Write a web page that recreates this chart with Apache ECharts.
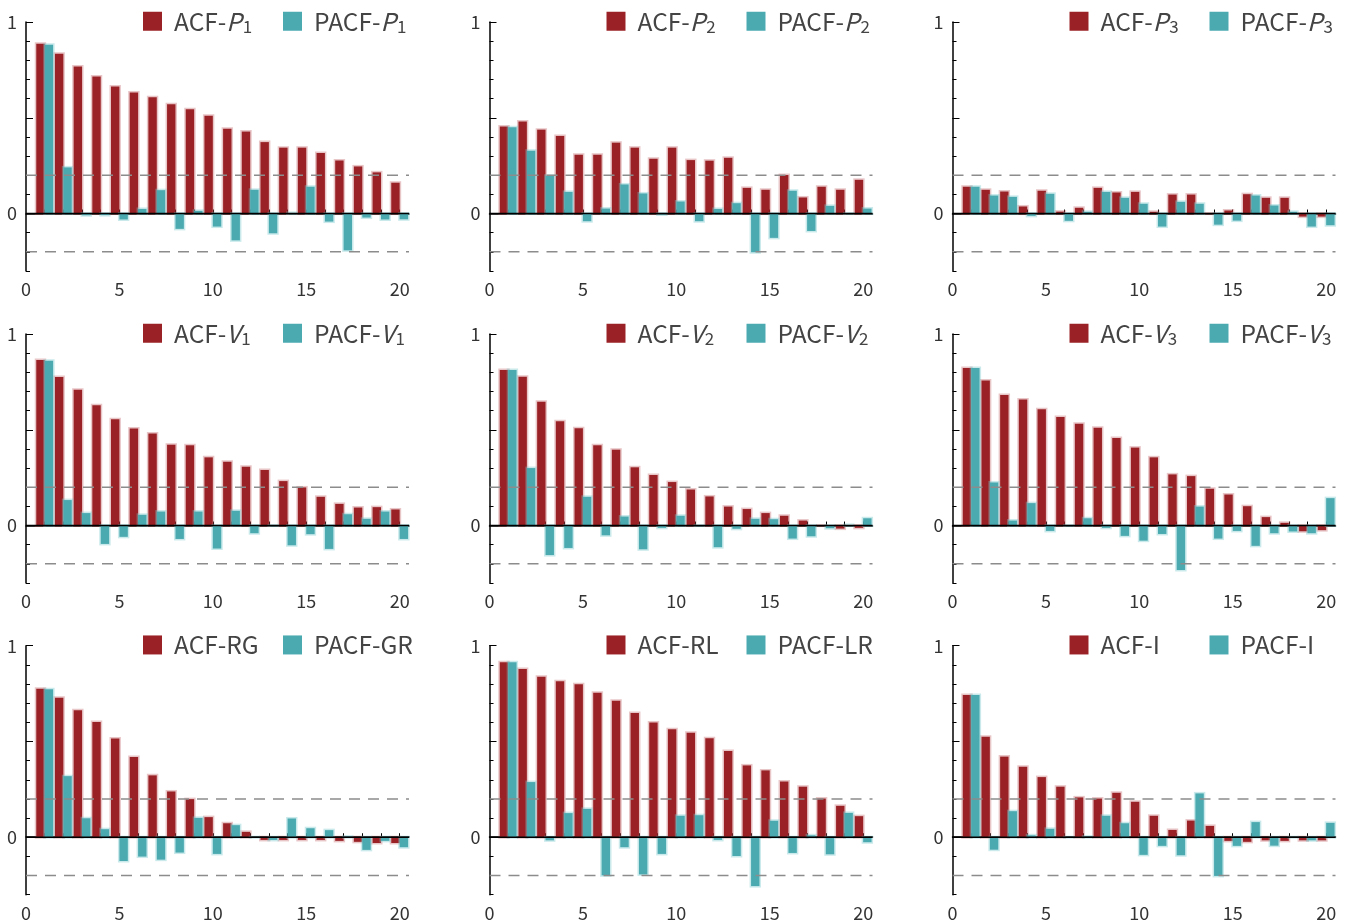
<!DOCTYPE html>
<html><head><meta charset="utf-8">
<script src="https://cdn.jsdelivr.net/npm/echarts@6/dist/echarts.min.js"></script>
<style>html,body{margin:0;padding:0;background:#fff}#c{width:1345px;height:922px}</style>
</head><body><div id="c"></div>
<script>
const lags = [1,2,3,4,5,6,7,8,9,10,11,12,13,14,15,16,17,18,19,20];
const xTickLabels = [0,5,10,15,20];
const yTickLabels = [0,1];
const yMajorTicks = [0.5,1];
const refLevels = [0.2,-0.2,0];

const acfP1  = [0.887,0.834,0.768,0.716,0.663,0.632,0.607,0.571,0.545,0.510,0.443,0.428,0.373,0.344,0.344,0.316,0.277,0.246,0.215,0.161];
const pacfP1 = [0.881,0.241,-0.009,-0.008,-0.031,0.024,0.122,-0.080,0.014,-0.068,-0.140,0.124,-0.103,0.003,0.140,-0.042,-0.192,-0.021,-0.031,-0.030];
const acfP2  = [0.454,0.480,0.438,0.405,0.307,0.307,0.370,0.344,0.286,0.344,0.279,0.276,0.291,0.134,0.124,0.201,0.084,0.140,0.124,0.176];
const pacfP2 = [0.450,0.328,0.197,0.113,-0.040,0.026,0.152,0.105,-0.005,0.063,-0.040,0.024,0.054,-0.202,-0.127,0.119,-0.091,0.040,0.000,0.026];
const acfP3  = [0.140,0.124,0.115,0.037,0.119,0.010,0.030,0.134,0.110,0.113,0.009,0.099,0.099,0.000,0.016,0.101,0.082,0.082,-0.016,-0.016];
const pacfP3 = [0.140,0.094,0.087,-0.012,0.103,-0.038,0.009,0.113,0.082,0.051,-0.068,0.061,0.051,-0.058,-0.037,0.094,0.042,0.009,-0.068,-0.061];
const acfV1  = [0.864,0.775,0.709,0.628,0.555,0.506,0.480,0.422,0.419,0.356,0.333,0.307,0.290,0.232,0.199,0.150,0.113,0.094,0.096,0.084];
const pacfV1 = [0.860,0.133,0.065,-0.096,-0.059,0.056,0.073,-0.070,0.073,-0.120,0.077,-0.040,0.000,-0.103,-0.045,-0.122,0.059,0.035,0.073,-0.070];
const acfV2  = [0.812,0.777,0.646,0.545,0.508,0.419,0.396,0.304,0.264,0.227,0.188,0.152,0.099,0.086,0.065,0.051,0.026,0.000,-0.016,-0.012];
const pacfV2 = [0.812,0.300,-0.154,-0.117,0.150,-0.051,0.047,-0.124,-0.012,0.051,0.000,-0.113,-0.017,0.035,0.033,-0.068,-0.056,-0.014,0.003,0.038];
const acfV3  = [0.822,0.757,0.681,0.658,0.607,0.567,0.532,0.510,0.457,0.407,0.356,0.267,0.258,0.192,0.162,0.101,0.044,0.014,-0.030,-0.024];
const pacfV3 = [0.822,0.225,0.026,0.117,-0.028,0.000,0.038,-0.012,-0.054,-0.079,-0.044,-0.232,0.099,-0.068,-0.028,-0.106,-0.040,-0.031,-0.040,0.143];
const acfRG  = [0.775,0.728,0.663,0.602,0.515,0.419,0.323,0.239,0.199,0.105,0.073,0.028,-0.014,-0.014,-0.014,-0.014,-0.019,-0.024,-0.030,-0.030];
const pacfGR = [0.773,0.319,0.099,0.042,-0.124,-0.101,-0.117,-0.080,0.101,-0.087,0.063,0.000,-0.014,0.098,0.047,0.037,0.003,-0.066,-0.019,-0.052];
const acfRL  = [0.913,0.878,0.838,0.815,0.799,0.754,0.712,0.649,0.599,0.564,0.546,0.517,0.450,0.375,0.349,0.291,0.264,0.202,0.164,0.110];
const pacfLR = [0.913,0.288,-0.016,0.126,0.148,-0.199,-0.052,-0.194,-0.087,0.112,0.115,-0.014,-0.098,-0.255,0.086,-0.082,0.010,-0.089,0.127,-0.026];
const acfI   = [0.742,0.524,0.421,0.368,0.314,0.264,0.208,0.202,0.232,0.185,0.112,0.038,0.087,0.059,-0.019,-0.024,-0.016,-0.019,-0.016,-0.016];
const pacfI  = [0.742,-0.065,0.136,0.010,0.044,0.000,0.003,0.112,0.073,-0.092,-0.045,-0.094,0.229,-0.202,-0.045,0.079,-0.044,0.000,-0.016,0.075];

const panels = [
  ['ACF-P1', acfP1, 'PACF-P1', pacfP1],
  ['ACF-P2', acfP2, 'PACF-P2', pacfP2],
  ['ACF-P3', acfP3, 'PACF-P3', pacfP3],
  ['ACF-V1', acfV1, 'PACF-V1', pacfV1],
  ['ACF-V2', acfV2, 'PACF-V2', pacfV2],
  ['ACF-V3', acfV3, 'PACF-V3', pacfV3],
  ['ACF-RG', acfRG, 'PACF-GR', pacfGR],
  ['ACF-RL', acfRL, 'PACF-LR', pacfLR],
  ['ACF-I',  acfI,  'PACF-I',  pacfI]
];

const RED = '#9a2226', RED_EDGE = 'rgba(190,90,95,0.35)';
const TEAL = '#4aaab0', TEAL_EDGE = 'rgba(120,200,205,0.40)';
const FONT = '"Noto Sans CJK JP","Noto Sans",sans-serif';
const colLeft = [26, 489.5, 952.5];
const rowTop = [22, 334, 645.7];
const GW = 383, GH = 249;
const XMAX = 20.5;

function legendFmt(name) {
  const m = name.match(/^(P?ACF-)([PV])(\d)$/);
  if (m) return '{a|' + m[1] + '}{i|' + m[2] + '}{s|' + m[3] + '}';
  return '{a|' + name + '}';
}
const legendRich = {
  a: {fontSize: 24.5, fontFamily: FONT, color: '#444', padding: [0,0,0,7]},
  i: {fontSize: 24.5, fontFamily: FONT, color: '#444', fontStyle: 'italic'},
  s: {fontSize: 17, fontFamily: FONT, color: '#444', padding: [11,0,0,1]}
};

function barRenderer(x0, x1, fill, edge) {
  return function (params, api) {
    const k = api.value(0), v = api.value(1);
    const a = api.coord([k + x0, 0]);
    const b = api.coord([k + x1, v]);
    const x = a[0], w = b[0] - a[0];
    const y = Math.min(a[1], b[1]), h = Math.abs(b[1] - a[1]);
    const e = 1.5;
    return {
      type: 'group',
      children: [
        {type: 'rect', shape: {x: x - e, y: y - e, width: w + 2 * e, height: h + 2 * e}, style: {fill: edge}},
        {type: 'rect', shape: {x: x, y: y, width: w, height: h}, style: {fill: fill}}
      ]
    };
  };
}

function refRenderer(params, api) {
  const v = api.value(0);
  const a = api.coord([0, v]);
  const b = api.coord([XMAX, v]);
  const zero = v === 0;
  return {
    type: 'line',
    shape: {x1: a[0], y1: a[1], x2: b[0], y2: b[1]},
    style: zero ? {stroke: '#000', lineWidth: 1.5} : {stroke: '#8c8c8c', lineWidth: 1.5, lineDash: [11, 8]}
  };
}

const option = {
  animation: false,
  backgroundColor: '#fff',
  textStyle: {fontFamily: FONT},
  grid: [], xAxis: [], yAxis: [], series: [], legend: []
};

panels.forEach((p, i) => {
  const r = Math.floor(i / 3), c = i % 3;
  const left = colLeft[c], top = rowTop[r];
  option.grid.push({left: left, top: top, width: GW, height: GH, containLabel: false});
  option.xAxis.push({
    type: 'value', gridIndex: i, min: 0, max: XMAX,
    axisLine: {show: true, lineStyle: {color: '#000', width: 1.5}},
    axisTick: {show: true, inside: true, length: 4, customValues: lags, lineStyle: {color: '#000', width: 1}},
    axisLabel: {customValues: xTickLabels, fontSize: 18, color: '#333', margin: 9, fontFamily: FONT},
    splitLine: {show: false}
  });
  option.yAxis.push({
    type: 'value', gridIndex: i, min: -0.3, max: 1, interval: 0.1, position: 'left',
    axisLine: {show: true, lineStyle: {color: '#000', width: 1.5}},
    axisTick: {show: true, inside: true, length: 4, lineStyle: {color: '#000', width: 1}},
    axisLabel: {customValues: yTickLabels, fontSize: 18, color: '#333', margin: 9, fontFamily: FONT},
    splitLine: {show: false}
  });
  option.yAxis.push({
    type: 'value', gridIndex: i, min: -0.3, max: 1, position: 'left', offset: 0,
    axisLine: {show: false},
    axisTick: {show: true, inside: true, length: 7, customValues: yMajorTicks, lineStyle: {color: '#000', width: 1}},
    axisLabel: {show: false},
    splitLine: {show: false}
  });
  const yi = 2 * i;
  option.series.push({
    name: p[0], type: 'custom', xAxisIndex: i, yAxisIndex: yi, z: 2,
    itemStyle: {color: RED},
    renderItem: barRenderer(-0.45, 0, RED, RED_EDGE),
    encode: {x: 0, y: 1},
    data: lags.map((k, j) => [k, p[1][j]])
  });
  option.series.push({
    name: p[2], type: 'custom', xAxisIndex: i, yAxisIndex: yi, z: 2,
    itemStyle: {color: TEAL},
    renderItem: barRenderer(0, 0.45, TEAL, TEAL_EDGE),
    encode: {x: 0, y: 1},
    data: lags.map((k, j) => [k, p[3][j]])
  });
  option.series.push({
    name: 'ref' + i, type: 'custom', xAxisIndex: i, yAxisIndex: yi, z: 5,
    renderItem: refRenderer, silent: true,
    encode: {y: 0},
    data: refLevels.map(v => [v])
  });
  const legTop = top - 13;
  [[p[0], 117], [p[2], 257]].forEach(([nm, dx]) => {
    option.legend.push({
      left: left + dx, top: legTop, padding: 0, itemWidth: 19, itemHeight: 19,
      icon: 'rect', selectedMode: false,
      data: [nm],
      formatter: legendFmt,
      textStyle: {fontSize: 24.5, color: '#444', fontFamily: FONT, rich: legendRich}
    });
  });
});

const chart = echarts.init(document.getElementById('c'), null, {renderer: 'canvas'});
chart.setOption(option);
</script></body></html>
